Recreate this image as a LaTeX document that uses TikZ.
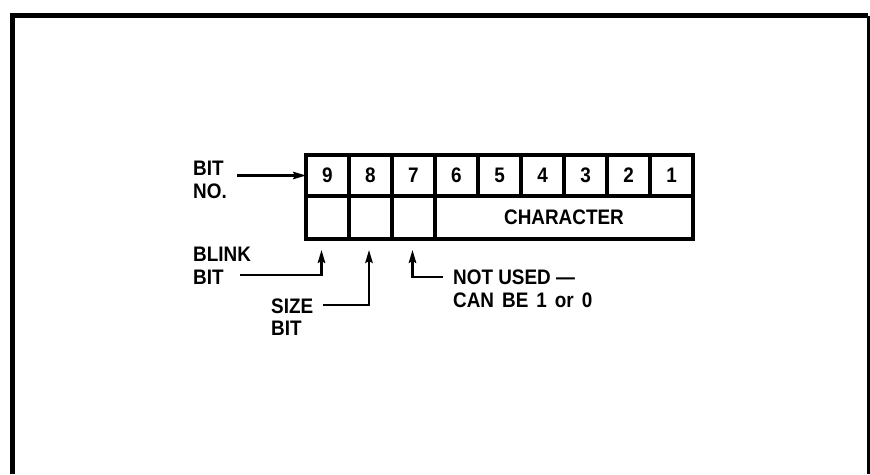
\documentclass[tikz,border=0pt]{standalone}
\usepackage{fontspec}
\setmainfont{Liberation Sans}
\newfontfamily\regfont{Liberation Sans Bold}[FakeStretch=0.9]
\usetikzlibrary{arrows.meta}
\begin{document}
\begin{tikzpicture}[x=1pt, y=-1pt,
  every node/.style={font=\regfont\fontsize{21}{22.5}\selectfont},
  bitcell/.style={draw, line width=\regLineWidth, inner sep=0pt, outer sep=0pt,
    minimum width=\cellw, minimum height=#1},
  bitcell/.default=41pt,
  bitlabel/.style={anchor=west, inner sep=0pt, align=left},
  arr/.style={line width=\arrLineWidth, -{Stealth[length=13pt, width=7.5pt, inset=2pt]}}]
% Word format of one display character
\def\cellw{43pt}
\providecommand{\regLineWidth}{3.2pt}
\providecommand{\arrLineWidth}{2.2pt}
\providecommand{\frameLineWidth}{5pt}
\useasboundingbox (0,0) rectangle (870,474);
% Outer frame, open at the bottom
\draw[line width=\frameLineWidth, line join=miter] (12.5,474) -- (12.5,15.5) -- (868,15.5);
\draw[line width=3pt] (868,15.5) -- (868,474);
% Bit numbers
\foreach \n [count=\i] in {9,8,7,6,5,4,3,2,1}
  \node[bitcell] (b\n) at ({306+43*(\i-0.5)}, 175.5) {\n};
% Field row
\foreach \n [count=\i] in {9,8,7}
  \node[bitcell=43pt] (f\n) at ({306+43*(\i-0.5)}, 217.5) {};
\node[bitcell=43pt, minimum width=258pt] (char) at (564, 217.5) {CHARACTER};
% Labels
\node[bitlabel] (bitno) at (193, 180) {BIT\\NO.};
\node[bitlabel] (blink) at (193, 266) {BLINK\\BIT};
\node[bitlabel] (size) at (271, 317) {SIZE\\BIT};
\node[bitlabel] (notused) at (453, 289) {NOT USED —\\\spaceskip=8pt CAN BE 1 or 0};
% Pointers
\draw[arr] ([xshift=44pt]bitno.west |- b9.west) -- (b9.west);
\draw[arr] ([xshift=47pt, yshift=-9pt]blink.west) -| ([xshift=-6pt, yshift=-11pt]f9.south);
\draw[arr] ([xshift=52pt, yshift=12pt]size.west) -| ([xshift=-1.5pt, yshift=-11pt]f8.south);
\draw[arr] ([xshift=-10pt, yshift=12pt]notused.west) -| ([xshift=-1pt, yshift=-11pt]f7.south);
\end{tikzpicture}
\end{document}
